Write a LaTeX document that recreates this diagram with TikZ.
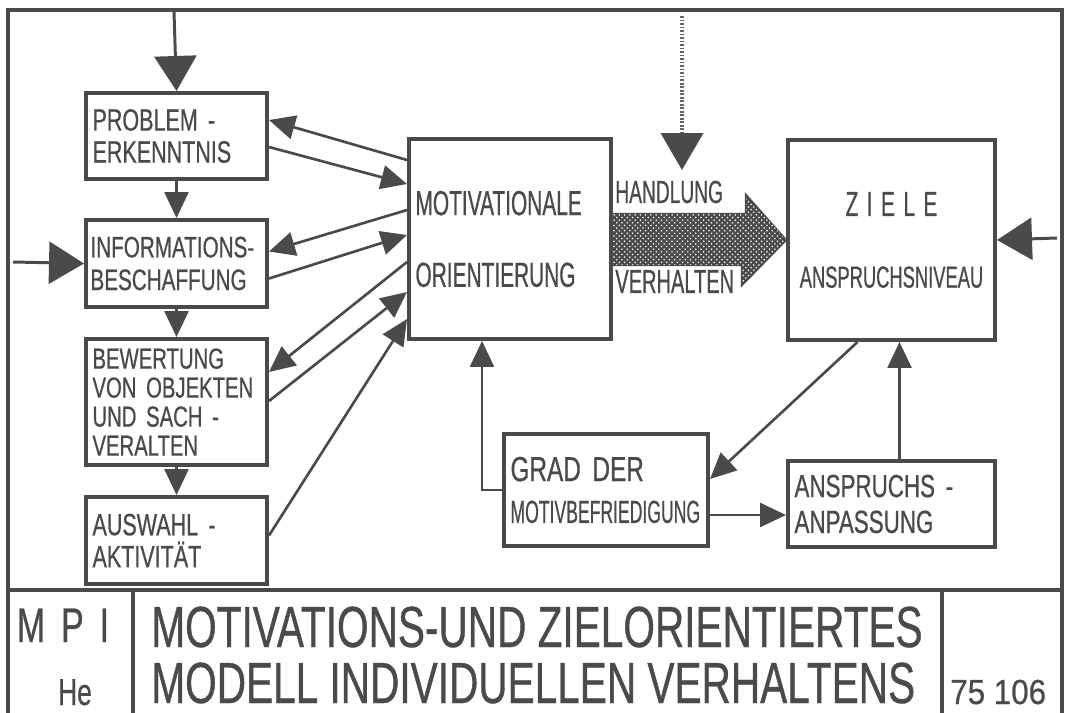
\documentclass[tikz,border=0pt]{standalone}
\usepackage{fontspec}
\setmainfont{Liberation Sans}[FakeStretch=0.70, FakeBold=0.6]
\newfontfamily\narrowfont{Liberation Sans}[FakeStretch=0.60, FakeBold=0.6]
\newfontfamily\tightfont{Liberation Sans}[FakeStretch=0.55, FakeBold=0.6]
\newfontfamily\digitfont{Liberation Sans}[FakeStretch=0.90, FakeBold=0.6]
\usepackage{tikz}
\usetikzlibrary{arrows.meta, calc, patterns}
\definecolor{ink}{HTML}{4A4A4A}
\tikzset{
  frame/.style={draw=ink, line width=2.4pt},
  box/.style={draw=ink, line width=2.3pt, text=ink, anchor=north west,
    inner xsep=0.13cm, inner ysep=0pt, align=left},
  lefttext/.style={font=\fontsize{17.5}{18.2}\selectfont},
  conn/.style={draw=ink, line width=1.5pt, -{Triangle[length=0.52cm, width=0.48cm]}},
  bigconn/.style={draw=ink, line width=1.7pt, -{Triangle[length=0.7cm, width=0.84cm]}},
  actconn/.style={draw=ink!85, line width=2.3pt, dash pattern=on 1pt off 1pt,
    -{Triangle[length=0.74cm, width=0.84cm, color=ink]}},
  bigarrow/.style={draw=ink, line width=1.2pt, fill=ink,
    postaction={pattern=crosshatch dots, pattern color=white}},
  label/.style={text=ink, inner sep=0pt}
}

\begin{document}
\begin{tikzpicture}[x=0.02cm, y=-0.02cm]
    \useasboundingbox (0,0) rectangle (1066,713);

    % frame and title block
    \draw[frame] (8,713) -- (8,10) -- (1062,10) -- (1062,713);
    \draw[frame] (8,590) -- (1062,590);
    \draw[frame] (133,590) -- (133,713);
    \draw[frame] (942,590) -- (942,713);

    % left column
    \node[box, lefttext, text width=3.36cm, minimum height=1.72cm]
         (problem) at (84,91) {PROBLEM -\\ERKENNTNIS};
    \node[box, text width=3.44cm, inner xsep=0.09cm, minimum height=1.74cm,
          font=\fontsize{16.8}{18.6}\selectfont]
         (info) at (84,218) {INFORMATIONS-\\BESCHAFFUNG};
    \node[box, text width=3.36cm, minimum height=2.52cm,
          font=\fontsize{16.5}{16.5}\selectfont]
         (bewert) at (84,337) {BEWERTUNG\\VON OBJEKTEN\\UND SACH -\\VERALTEN};
    \node[box, lefttext, text width=3.36cm, minimum height=1.74cm]
         (auswahl) at (84,495) {AUSWAHL -\\AKTIVITÄT};

    % middle and right
    \node[box, text width=3.78cm, minimum height=4cm,
          font=\narrowfont\fontsize{19.8}{40.8}\selectfont]
         (mot) at (407,137) {MOTIVATIONALE\\ORIENTIERUNG};
    \node[box, text width=3.88cm, minimum height=4cm, align=center,
          font=\narrowfont\fontsize{19.8}{40.8}\selectfont]
         (ziele) at (786,138) {Z\hspace{4.8pt}I\hspace{4.8pt}E\hspace{4.8pt}L\hspace{4.8pt}E\\{\fontsize{17.4}{40.8}\selectfont ANSPRUCHSNIVEAU}};
    \node[box, text width=3.82cm, minimum height=2.24cm,
          font=\fontsize{19.8}{23.8}\selectfont]
         (grad) at (502,432) {GRAD DER\\{\tightfont\fontsize{18.2}{23.8}\selectfont MOTIVBEFRIEDIGUNG}};
    \node[box, text width=3.88cm, minimum height=1.72cm,
          font=\fontsize{18.2}{20.4}\selectfont]
         (anpass) at (786,459) {ANSPRUCHS -\\ANPASSUNG};

    \node[label, anchor=base west, font=\narrowfont\fontsize{18.2}{18.2}\selectfont]
         (handlung) at (615,203) {HANDLUNG};
    \node[label, anchor=base west, font=\narrowfont\fontsize{19}{19}\selectfont]
         (verhalten) at (615,293) {VERHALTEN};

    % title block text
    \node[label, anchor=base, font=\fontsize{27.7}{27.7}\selectfont]
         (mpi) at (63,642) {M\hspace{9pt}P\hspace{9pt}I};
    \node[label, anchor=base, font=\fontsize{21.4}{21.4}\selectfont]
         (he) at (75,705) {He};
    \node[label, anchor=base west, font=\fontsize{33}{33}\selectfont]
         (title1) at (151,647) {MOTIVATIONS-UND ZIELORIENTIERTES};
    \node[label, anchor=base west, font=\fontsize{33}{33}\selectfont]
         (title2) at (151,703) {MODELL INDIVIDUELLEN VERHALTENS};
    \node[label, anchor=base west, font=\digitfont\fontsize{19.8}{19.8}\selectfont]
         (nr) at (950,704) {75 106};

    \coordinate (topin) at (174,12);
    \coordinate (leftin) at (13,262);
    \coordinate (rightin) at (1057,238);
    \coordinate (actin) at (682,16);
    \coordinate (acttip) at (682,170);

    %edges
    \draw[bigconn] (topin) -- (problem.north);
    \draw[bigconn] (leftin) -- (info.west);
    \draw[bigconn] (rightin) -- (ziele.east);
    \draw[actconn] (actin) -- (acttip);

    \draw[conn] (problem.south) -- (info.north);
    \draw[conn] (info.south) -- (bewert.north);
    \draw[conn] (bewert.south) -- (auswahl.north);

    \draw[conn] ($(mot.west)+(0,-79)$) -- ($(problem.east)+(0,-16)$);
    \draw[conn] ($(problem.east)+(0,11)$) -- ($(mot.west)+(0,-55)$);
    \draw[conn] ($(mot.west)+(0,-29)$) -- ($(info.east)+(0,-12)$);
    \draw[conn] ($(info.east)+(0,15)$) -- ($(mot.west)+(0,-4)$);
    \draw[conn] ($(mot.west)+(0,23)$) -- ($(bewert.east)+(0,-30)$);
    \draw[conn] ($(bewert.east)+(0,-1)$) -- ($(mot.west)+(0,53)$);
    \draw[conn] ($(auswahl.east)+(0,-5)$) -- ($(mot.west)+(0,80)$);

    \path[bigarrow] ($(mot.east)+(0,-25)$) -- ++(133,0) -- ++(0,-19)
         -- (ziele.west) -- ++(-44,45) -- ++(0,-20)
         -- ($(mot.east)+(0,26)$) -- cycle;

    \draw[conn] (grad.west) -| ($(mot.south west)+(75,0)$);
    \draw[conn] ($(ziele.south)+(-34,0)$) -- ($(grad.east)+(0,-11)$);
    \draw[conn] ($(grad.east)+(0,25)$) coordinate (g2) -- (g2 -| anpass.west);
    \draw[conn] ($(anpass.north)+(8,0)$) coordinate (a2) -- (a2 |- ziele.south);
\end{tikzpicture}
\end{document}
